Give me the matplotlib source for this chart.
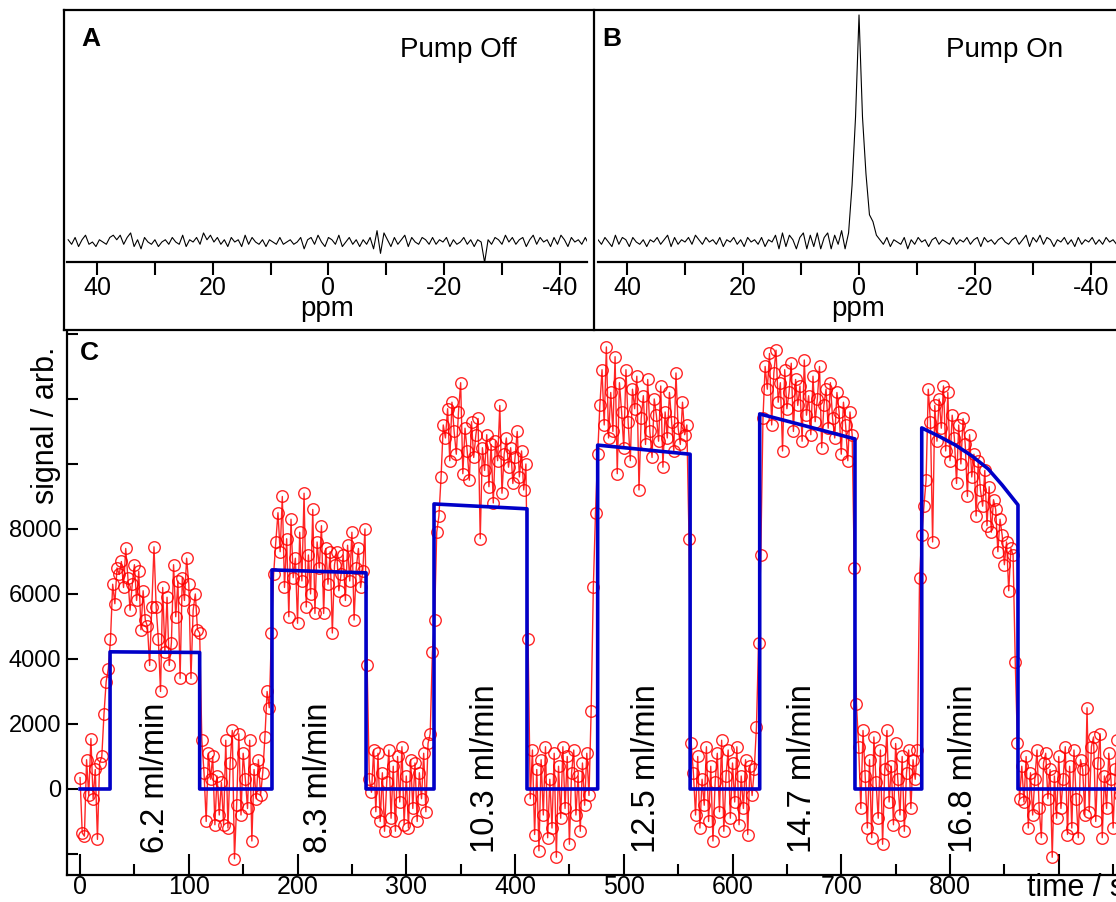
import numpy as np
import matplotlib
matplotlib.use('Agg')
import matplotlib.pyplot as plt
from matplotlib.lines import Line2D

plt.rcParams['font.family'] = ['Liberation Sans', 'DejaVu Sans']
plt.rcParams['axes.unicode_minus'] = False

# ---------------- data ----------------
# NMR spectra (panel A / B), baseline 0, peak 100, sampled every 0.6 ppm from 45 to -45 ppm
ppm_first, ppm_step = 45.0, -0.6
spec_off = [1, -1, 2, -2, 1, 3, -1, 0, -2, 1, 0, -1, 2, 3, 1,
            3, -1, 2, 4, -2, 1, -3, 2, 0, -1, 1, -2, 0, 1, -1,
            2, 0, -1, 3, -2, 1, 0, 2, -1, 4, 1, 3, 0, 2, -1,
            1, -2, 2, 0, 1, -2, 3, -1, 2, 0, -1, 1, -2, 1, 0,
            -1, 2, -1, 0, 1, -1, 0, 2, -3, 1, 2, -1, 3, 0, -2,
            2, 1, -1, 3, -2, 0, 2, -1, 1, -2, 1, -1, 2, -3, 5,
            -5, 4, 1, -2, 2, -1, 1, 3, -2, 2, 0, -1, 2, 1, -1,
            2, -1, 1, 0, 2, -2, 1, -1, 0, 2, -1, 1, -2, 1, 0,
            -9, 1, -1, 2, 1, -1, 3, 0, 2, -1, 1, 2, -2, 1, 3,
            -1, 2, 0, 1, -2, 2, -1, 3, 1, -2, 2, 0, 1, -1, 2, -1]
spec_on = [1, -1, 2, 0, -2, 3, -1, 2, 1, -2, 2, 0, -1, 1, -2,
           1, 0, 2, -1, 1, 3, -2, 2, -1, 1, 0, 2, -1, 3, 1,
           -1, 2, 0, 1, -1, 2, -2, 1, 0, 2, -1, 1, -2, 2, 0,
           1, -1, 2, -2, 1, 0, 3, -3, 4, -2, 3, 1, -3, 2, 4,
           -3, 3, -2, 4, -3, 2, 4, -3, 3, -1, 5, -3, 4, 25, 55,
           100, 55, 30, 12, 9, 3, 1, -1, 2, -2, 1, 0, -1, 2, -3,
           1, -1, 2, 0, 1, -2, 1, 2, -1, 1, 0, -1, 2, -1, 1,
           0, 2, -1, 1, 2, -2, 2, 0, 1, -1, 1, 2, 0, -1, 1,
           2, -1, 1, 3, -2, 2, 0, 3, -1, 2, 1, -2, 1, 0, 2,
           -1, 1, -2, 2, -1, 1, 0, 2, -1, 1, -1, 2, 0, 1, -1, 2]

# panel C: measured signal, one point every 2 s starting at t = 0
dt = 2.0
signal = [
    # pump off
    350, -1350, -1450, 900, -200, 1550, -300, 600, -1550, 800, 1000,
    2300, 3300, 3700, 4600,
    # 6.2 ml/min
    6300, 5700, 6800, 6600, 7000, 6200, 7400, 6500, 5500, 6300, 6900, 5800, 6700,
    4900, 6100, 5200, 5000, 3800, 5600, 7450, 5600, 4600, 3000, 6200, 4200, 5900, 3800, 4500,
    6900, 5300, 6400, 3400, 6500, 5800, 7100, 6300, 3400, 5500, 6000, 4900, 4800,
    # off
    1500, 500, -1000, 1100, 300, 1000, -1100, 400, -800, 200,
    -1100, 1500, -1200, 800, 1800, -2150, -500, 1700, -800, 1100,
    300, -600, 1500, -1600, 600, -300, 900, -200, 500,
    1600, 3000, 2500, 4800,
    # 8.3 ml/min
    6600, 7600, 8500, 7300, 9000, 6200, 7700, 5300, 8300, 6500,
    7100, 5100, 7900, 6400, 9100, 5600, 7200, 6000, 8600, 5400,
    7600, 6800, 8100, 5400, 7400, 6300, 7300, 4800, 6900, 7300,
    6100, 6600, 7200, 5800, 7500, 6400, 7900, 5200, 6800, 7400,
    6200, 6700, 8000,
    3800,
    # off
    300, -100, 1200, -700, 1100, -1000, 500, -1300, 200, 1200,
    -900, 700, -1300, 1000, -400, 1300, -1100, 400, -1200, 900,
    -600, 800, -1000, 500, -300, 1100, -700, 1400,
    1700, 4200, 5200, 7900,
    # 10.3 ml/min
    8400, 9600, 11200, 10800, 11700, 10100, 11900, 11000, 10300, 11600,
    12500, 9700, 11100, 10400, 9500, 11300, 10200, 10900, 11400, 7700,
    10500, 9800, 10900, 9300, 10600, 8800, 10700, 10100, 11800, 9100,
    10300, 10800, 9900, 10500, 9400, 10200, 11000, 9600, 10400, 9200,
    10000,
    4600,
    # off
    -300, 1200, -1400, 600, -1900, 900, -800, 1300, -1500, 300,
    -1200, 1100, -2100, 700, -900, 1300, -600, 1000, -1700, 500,
    1200, -800, 400, -1300, 800, -500, 1100, -200,
    2400, 6200, 8500,
    # 12.5 ml/min
    10300, 11800, 12900, 11200, 13600, 10800, 12200, 11000, 13300, 9700,
    12500, 11600, 10500, 12900, 11300, 10100, 12300, 11700, 12700, 9200,
    11400, 12100, 10600, 12600, 11000, 10200, 12000, 11500, 10700, 12400,
    9900, 11600, 10800, 12200, 11300, 10400, 12800, 11100, 10600, 11900,
    10900, 11200,
    7700,
    # off
    1400, 500, -800, 1000, -1200, 300, -500, 1300, -1000, 700,
    -1600, 200, 1100, -700, 1500, -1300, 400, 1200, -900, 800,
    -400, 1300, -1100, 400, -600, 900, -1400, 700, -200, 600,
    1900, 4500, 7200,
    # 14.7 ml/min
    11400, 13000, 12300, 13400, 11200, 12800, 13500, 11900, 12500, 10400,
    12900, 11700, 12200, 13100, 11000, 12600, 11800, 12400, 10700, 13200,
    11500, 12100, 10900, 12700, 11300, 12000, 13000, 10500, 11800, 12300,
    11100, 12500, 11400, 10800, 12200, 11600, 10300, 11900, 11200, 10100,
    11600, 10900,
    6800,
    # off
    2600, 1300, -600, 1800, 400, -1200, 900, -1500, 1600, 200,
    -900, 1200, -1700, 600, 1800, -400, 700, -1100, 1400, 300,
    -800, 1000, -1300, 500, 1200, -600, 900, 300, 1200,
    6500, 7800, 8700,
    # 16.8 ml/min
    9500, 12300, 11300, 7600, 11800, 10700, 12000, 11100, 12400, 10400,
    12200, 10100, 11500, 10800, 9400, 11200, 10000, 11400, 10600, 9000,
    10900, 9600, 10300, 8400, 10100, 9200, 8700, 9800, 8100, 9300,
    7900, 8900, 8600, 7300, 8300, 7800, 6900, 7600, 6100, 7400,
    7200,
    3900,
    # off
    1400, -300, 700, -400, 1000, -1200, 500, -800, 300, 1200,
    -600, -1500, 800, 1100, -300, 600, -2100, 400, -900, 1000,
    -600, 300, 1300, -1400, 700, -1200, 1200, -300, -1500, 900,
    600, -800, 2500, -700, 1300, 1600, -1000, 800, 1700, -1500,
    400, -600, 1100, 300, -1200, 600, 1500, -200, 800, -900,
    1200, -400, 700, 1300, -1100, 500, -300, 900,
]

# model fit (blue)
fit_t = [0, 27.6, 27.6, 110, 110, 176.5, 176.5, 263, 263, 325.5, 325.5, 411, 411,
         476, 476, 561, 561, 625, 625, 712.6, 712.6, 774, 774, 790, 805, 820, 835, 848,
         862.5, 862.5, 1000]
fit_v = [0, 0, 4220, 4200, 0, 0, 6740, 6650, 0, 0, 8770, 8620, 0, 0,
         10580, 10300, 0, 0, 11540, 10770, 0, 0, 11110, 10850, 10580, 10250, 9850, 9350,
         8740, 0, 0]

flow_labels = ['6.2 ml/min', '8.3 ml/min', '10.3 ml/min', '12.5 ml/min',
               '14.7 ml/min', '16.8 ml/min']
flow_label_t = [69, 219, 373, 521, 664, 812]

ppm_ticks = [40, 20, 0, -20, -40]
ppm_minor = [30, 10, -10, -30]
xticks_c = [0, 100, 200, 300, 400, 500, 600, 700, 800, 900, 1000]
xlabels_c = ['0', '100', '200', '300', '400', '500', '600', '700', '800', '', '']
yticks_c = [-2000, 0, 2000, 4000, 6000, 8000, 10000, 12000, 14000]
ylabels_c = ['', '0', '2000', '4000', '6000', '8000', '', '', '']

# ---------------- figure ----------------
W, H = 1116, 902
fig = plt.figure(figsize=(W / 100, H / 100), dpi=100)


def fx(px):
    return px / W


def fy(py):
    return 1 - py / H


ppm = ppm_first + ppm_step * np.arange(len(spec_off))
TICK_FS = 18
LABEL_FS = 20


def spectrum_axes(left_px, xlim, values):
    ax = fig.add_axes([fx(left_px), fy(262), 520 / W, (262 - 12) / H])
    ax.plot(ppm, values, color='black', lw=0.8)
    ax.set_xlim(*xlim)
    ax.set_ylim(-8.8, 101.3)
    for s in ['top', 'left', 'right']:
        ax.spines[s].set_visible(False)
    ax.spines['bottom'].set_linewidth(1.6)
    ax.set_yticks([])
    ax.set_xticks(ppm_ticks)
    ax.set_xticks(ppm_minor, minor=True)
    ax.tick_params(axis='x', which='both', direction='out', length=9, width=1.5,
                   labelsize=TICK_FS, pad=1)
    ax.patch.set_alpha(0)
    return ax


axA = spectrum_axes(67, (45.2, -44.7), spec_off)
axB = spectrum_axes(598, (45.0, -44.65), spec_on)

fig.text(fx(327), fy(316), 'ppm', fontsize=LABEL_FS, va='baseline', ha='center')
fig.text(fx(858), fy(316), 'ppm', fontsize=LABEL_FS, va='baseline', ha='center')

fig.text(fx(81), fy(39), 'A', fontsize=19, fontweight='bold', va='center', ha='left')
fig.text(fx(602), fy(39), 'B', fontsize=19, fontweight='bold', va='center', ha='left')
fig.text(fx(458), fy(50), 'Pump Off', fontsize=LABEL_FS, va='center', ha='center')
fig.text(fx(1005), fy(50), 'Pump On', fontsize=LABEL_FS, va='center', ha='center')

# frame lines around top panels
for (x0, y0, x1, y1) in [(64, 10, 1116, 10), (64, 10, 64, 330), (64, 330, 1116, 330),
                         (594, 10, 594, 330)]:
    fig.add_artist(Line2D([fx(x0), fx(x1)], [fy(y0), fy(y1)], transform=fig.transFigure,
                          color='black', lw=1.6))

# panel C
axC = fig.add_axes([fx(67), fy(875), (1167.5 - 67) / W, (875 - 332) / H])
t = np.arange(len(signal)) * dt
axC.plot(t, signal, '-o', color='red', lw=1.0, ms=8.3, mfc='none', mew=1.0, alpha=0.85)
axC.plot(fit_t, fit_v, color='#0000c8', lw=2.6)
axC.set_xlim(-12, 1000)
axC.set_ylim(-2646, 14060)
for s in ['top', 'right']:
    axC.spines[s].set_visible(False)
for s in ['left', 'bottom']:
    axC.spines[s].set_linewidth(1.6)
axC.set_yticks(yticks_c)
axC.set_yticklabels(ylabels_c)
axC.set_xticks(xticks_c)
axC.set_xticklabels(xlabels_c)
axC.set_xticks(np.arange(50, 1001, 100), minor=True)
axC.tick_params(axis='y', direction='in', length=8, width=1.5, labelsize=17, pad=4)
axC.tick_params(axis='x', which='major', direction='in', length=15, width=1.5,
                labelsize=TICK_FS, pad=0)
axC.tick_params(axis='x', which='minor', direction='in', length=8, width=1.5)
axC.patch.set_alpha(0)

for lab, tt in zip(flow_labels, flow_label_t):
    axC.text(tt, -1970, lab, rotation=90, fontsize=23.5, ha='center', va='bottom')

fig.text(fx(80), fy(353), 'C', fontsize=19, fontweight='bold', va='center', ha='left')
fig.text(fx(46), fy(425), 'signal / arb.', fontsize=22, rotation=90, va='center', ha='center')
fig.text(fx(1027), fy(888), 'time / s', fontsize=22, va='center', ha='left')

fig.savefig('out.png', dpi=100)
